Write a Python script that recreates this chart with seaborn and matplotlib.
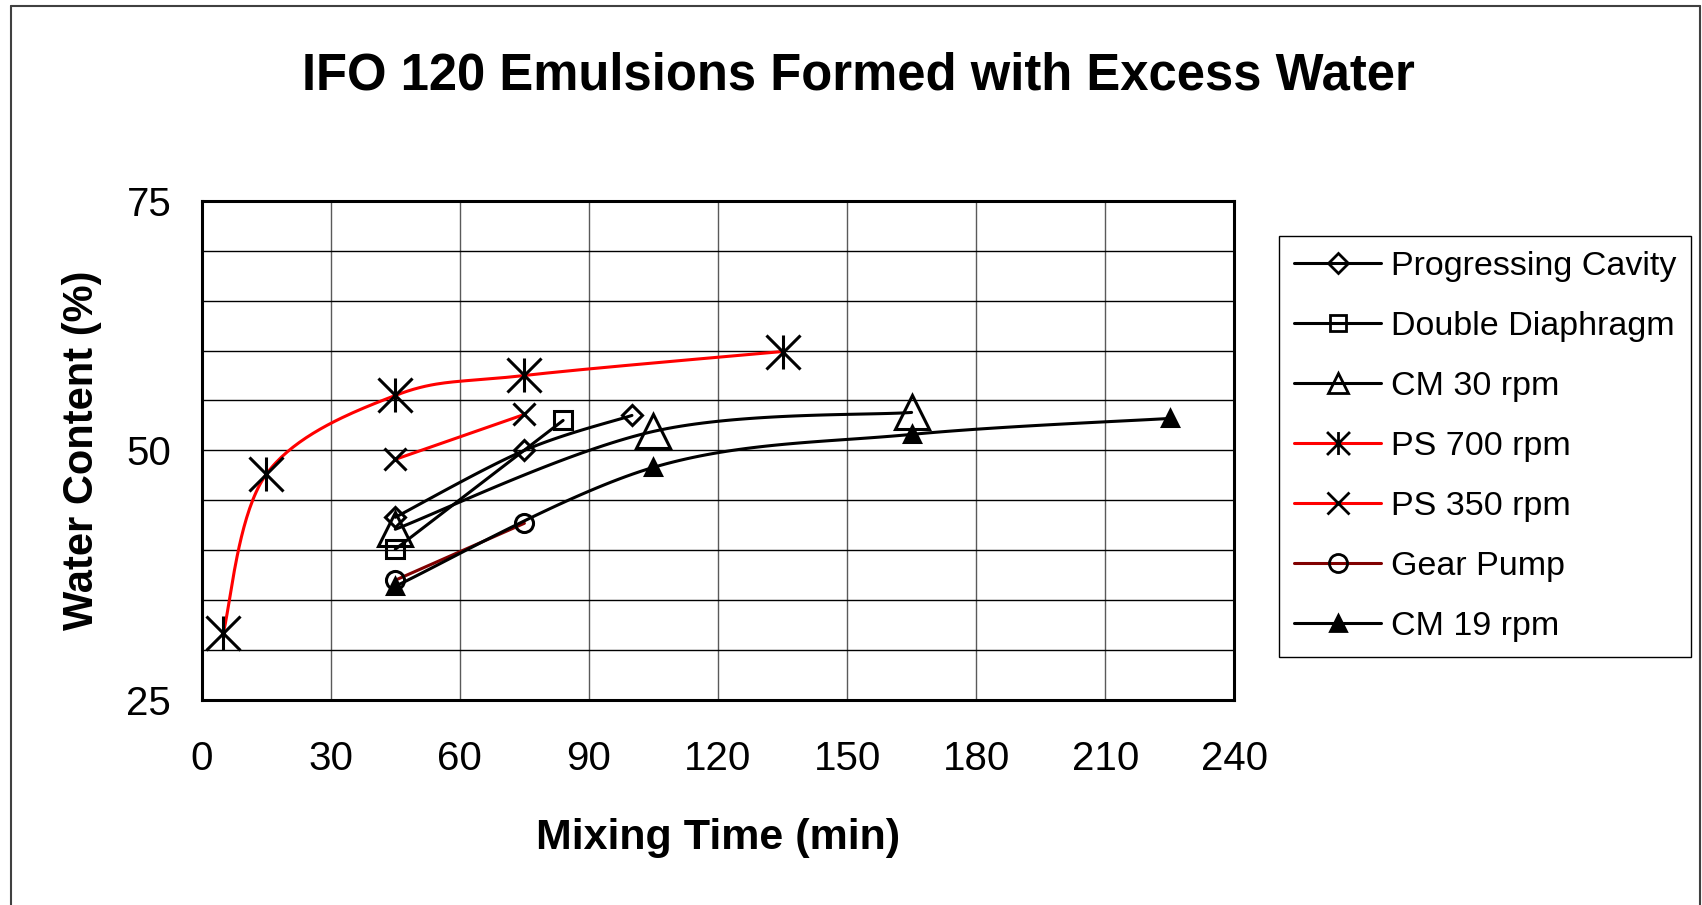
import numpy as np
import matplotlib
matplotlib.use("Agg")
import matplotlib.pyplot as plt
from matplotlib.path import Path
from matplotlib.lines import Line2D
from matplotlib.ticker import MultipleLocator
import seaborn as sns

# Mixing time (min) and water content (%) for each mixer
pc_time = [45, 75, 100]
pc_water = [43.3, 50.0, 53.5]

dd_time = [45, 84]
dd_water = [40.1, 53.0]

cm30_time = [45, 105, 165]
cm30_water = [42.1, 51.9, 53.8]

ps700_time = [5, 15, 45, 75, 135]
ps700_water = [31.7, 47.6, 55.5, 57.5, 59.9]

ps350_time = [45, 75]
ps350_water = [49.1, 53.6]

gear_time = [45, 75]
gear_water = [37.0, 42.7]

cm19_time = [45, 105, 165, 225]
cm19_water = [36.4, 48.3, 51.6, 53.2]

series_names = ["Progressing Cavity", "Double Diaphragm", "CM 30 rpm",
                "PS 700 rpm", "PS 350 rpm", "Gear Pump", "CM 19 rpm"]
x_ticks = [0, 30, 60, 90, 120, 150, 180, 210, 240]
y_ticks = [25, 50, 75]

title_text = "IFO 120 Emulsions Formed with Excess Water"
x_label = "Mixing Time (min)"
y_label = "Water Content (%)"


def smooth_curve(xs, ys, n=40):
    """Spreadsheet-style smoothed line: cubic Bezier segments with
    Catmull-Rom control points (tension 1/6)."""
    p = np.column_stack([xs, ys]).astype(float)
    if len(p) < 3:
        return p[:, 0], p[:, 1]
    t = np.linspace(0, 1, n)[1:, None]
    out = [p[0]]
    for i in range(len(p) - 1):
        a, b = p[i], p[i + 1]
        prev = p[i - 1] if i > 0 else p[i]
        nxt = p[i + 2] if i + 2 < len(p) else p[i + 1]
        c1 = a + (b - prev) / 6.0
        c2 = b - (nxt - a) / 6.0
        seg = ((1 - t) ** 3) * a + 3 * ((1 - t) ** 2) * t * c1 \
            + 3 * (1 - t) * t ** 2 * c2 + t ** 3 * b
        out.extend(seg)
    arr = np.array(out)
    return arr[:, 0], arr[:, 1]


# asterisk marker: vertical stroke plus a cross
asterisk = Path([(0, -1), (0, 1), (-1, -1), (1, 1), (-1, 1), (1, -1)],
                [Path.MOVETO, Path.LINETO] * 3)

sns.set_theme(style="white")
plt.rcParams["font.family"] = ["Liberation Sans", "DejaVu Sans"]
plt.rcParams["text.color"] = "black"
plt.rcParams["axes.labelcolor"] = "black"
plt.rcParams["xtick.color"] = "black"
plt.rcParams["ytick.color"] = "black"

fig = plt.figure(figsize=(17.02, 9.05), dpi=100)
fig.patch.set_facecolor("white")
ax = fig.add_axes([0.1185, 0.2265, 0.6067, 0.5517])

styles = [
    # times, values, line colour, marker, plot size, legend size, filled
    (pc_time, pc_water, "black", "D", 10.5, 10.5, False),
    (dd_time, dd_water, "black", "s", 13, 12, False),
    (cm30_time, cm30_water, "black", "^", 24.5, 15, False),
    (ps700_time, ps700_water, "#ff0000", asterisk, 24.5, 16.5, False),
    (ps350_time, ps350_water, "#ff0000", "x", 16, 16, False),
    (gear_time, gear_water, "#800000", "o", 13, 13, False),
    (cm19_time, cm19_water, "black", "^", 11.5, 11.5, True),
]

handles = []
for (xs, ys, col, mk, ms, lms, filled), name in zip(styles, series_names):
    sx, sy = smooth_curve(xs, ys)
    sns.lineplot(x=sx, y=sy, ax=ax, color=col, lw=2.2, sort=False,
                 estimator=None, legend=False)
    fc = "black" if filled else "none"
    ax.plot(xs, ys, linestyle="none", marker=mk, ms=ms, mfc=fc,
            mec="black", mew=2.2)
    handles.append(Line2D([], [], color=col, lw=2.2, marker=mk, ms=lms,
                          mfc=fc, mec="black", mew=2.0))

ax.set_xlim(0, 240)
ax.set_ylim(25, 75)
ax.set_xticks(x_ticks)
ax.set_yticks(y_ticks)
ax.yaxis.set_minor_locator(MultipleLocator(5))
ax.grid(True, which="major", axis="x", color="#5a5a5a", lw=1.0)
ax.grid(True, which="both", axis="y", color="black", lw=1.0)
ax.set_axisbelow(True)
ax.tick_params(which="major", direction="out", length=9, width=1.0,
               color="#555555", labelsize=29, labelcolor="black")
ax.tick_params(axis="x", which="major", pad=20)
ax.tick_params(axis="y", which="major", pad=13)
ax.tick_params(which="minor", length=0)
for sp in ax.spines.values():
    sp.set_visible(True)
    sp.set_color("black")
    sp.set_linewidth(2.2)
ax.set_xlabel("")
ax.set_ylabel("")

fig.text(0.5045, 0.9006, title_text, ha="center", va="baseline",
         fontsize=36.5, fontweight="bold", color="black")
fig.text(0.4219, 0.0623, x_label, ha="center", va="baseline",
         fontsize=31, fontweight="bold", color="black")
fig.text(0.048, 0.5024, y_label, rotation=90, ha="center", va="center",
         fontsize=30, fontweight="bold", color="black")

leg = fig.legend(handles, series_names, loc="upper left",
                 bbox_to_anchor=(1279 / 1702, 1 - 236 / 905),
                 bbox_transform=fig.transFigure, frameon=True,
                 fancybox=False, edgecolor="black", framealpha=1,
                 fontsize=24.5, handlelength=2.55, handletextpad=0.28,
                 labelspacing=0.85, borderpad=0.45, borderaxespad=0)
leg.get_frame().set_linewidth(1.0)
for txt in leg.get_texts():
    txt.set_color("black")

# outer chart frame
W, H = 1702.0, 905.0
for xs_, ys_ in [([11 / W, 11 / W], [0, 1 - 6 / H]),
                 ([11 / W, 1700 / W], [1 - 6 / H, 1 - 6 / H]),
                 ([1700 / W, 1700 / W], [0, 1 - 6 / H])]:
    fig.add_artist(Line2D(xs_, ys_, transform=fig.transFigure,
                          color="#404040", lw=1.5))

fig.savefig("out.png", dpi=100, facecolor="white")
